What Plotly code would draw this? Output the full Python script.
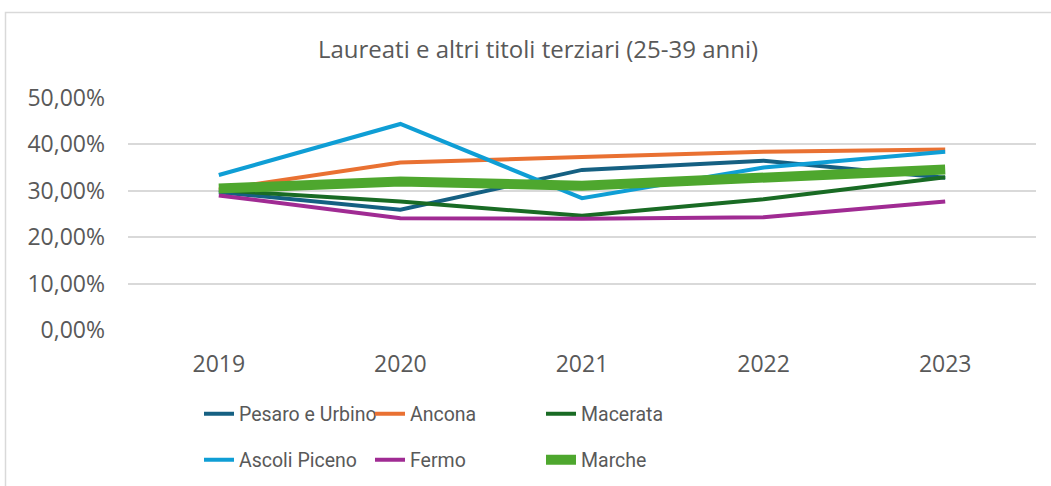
import plotly.graph_objects as go

years = ["2019", "2020", "2021", "2022", "2023"]

pesaro_urbino = [0.297, 0.259, 0.345, 0.365, 0.328]
ancona = [0.303, 0.361, 0.373, 0.384, 0.389]
macerata = [0.301, 0.277, 0.246, 0.282, 0.329]
ascoli_piceno = [0.334, 0.444, 0.284, 0.350, 0.384]
fermo = [0.290, 0.241, 0.240, 0.243, 0.277]
marche = [0.305, 0.320, 0.311, 0.331, 0.346]

series = [
    ("Pesaro e Urbino", pesaro_urbino, "#156082", 4, "legend"),
    ("Ancona", ancona, "#E97132", 4, "legend"),
    ("Macerata", macerata, "#196B24", 4, "legend"),
    ("Ascoli Piceno", ascoli_piceno, "#0F9ED5", 4, "legend2"),
    ("Fermo", fermo, "#A02B93", 4, "legend2"),
    ("Marche", marche, "#4EA72E", 10, "legend2"),
]

FONT = "Open Sans"
LEGEND_FONT = "Roboto"
GREY = "#595959"

fig = go.Figure()
for name, vals, color, width, leg in series:
    fig.add_trace(go.Scatter(
        x=years, y=vals, name=name, mode="lines",
        line=dict(color=color, width=width),
        legend=leg,
    ))

L, R, T, B = 128, 15, 98, 156
W, H = 1051, 486
pw, ph = W - L - R, H - T - B


def px_x(x):
    return (x - L) / pw


def px_y(y):
    return (H - B - y) / ph


legend_common = dict(
    orientation="h", xanchor="left", yanchor="middle",
    entrywidth=126, entrywidthmode="pixels",
    font=dict(family=LEGEND_FONT, size=19.5, color=GREY),
    bgcolor="rgba(0,0,0,0)", traceorder="normal",
)

fig.update_layout(
    width=W, height=H,
    margin=dict(l=L, r=R, t=T, b=B, autoexpand=False),
    paper_bgcolor="white", plot_bgcolor="white",
    separators=",.",
    title=dict(
        text="Laureati e altri titoli terziari (25-39 anni)",
        x=px_x(538), xref="paper", xanchor="center",
        y=1 - 50 / H, yref="container", yanchor="middle",
        font=dict(family=FONT, size=24, color=GREY),
    ),
    xaxis=dict(
        type="category", range=[-0.5, 4.5],
        showgrid=False, showline=False, zeroline=False,
        ticks="", ticklabelstandoff=18,
        tickfont=dict(family=FONT, size=23, color=GREY),
    ),
    yaxis=dict(
        range=[0, 0.5], dtick=0.1, tickformat=".2%",
        showgrid=True, gridcolor="#D9D9D9", gridwidth=1.5,
        zeroline=False, showline=False, ticks="",
        ticklabelstandoff=22,
        tickfont=dict(family=FONT, size=23, color=GREY),
    ),
    legend=dict(x=px_x(199), y=px_y(414), **legend_common),
    legend2=dict(x=px_x(199), y=px_y(460), **legend_common),
    shapes=[
        dict(type="rect", xref="paper", yref="paper",
             x0=px_x(5.5), x1=px_x(1100), y0=px_y(600), y1=px_y(12.5),
             line=dict(color="#D9D9D9", width=1.5), layer="below"),
    ],
)

fig.write_html("out.html")
